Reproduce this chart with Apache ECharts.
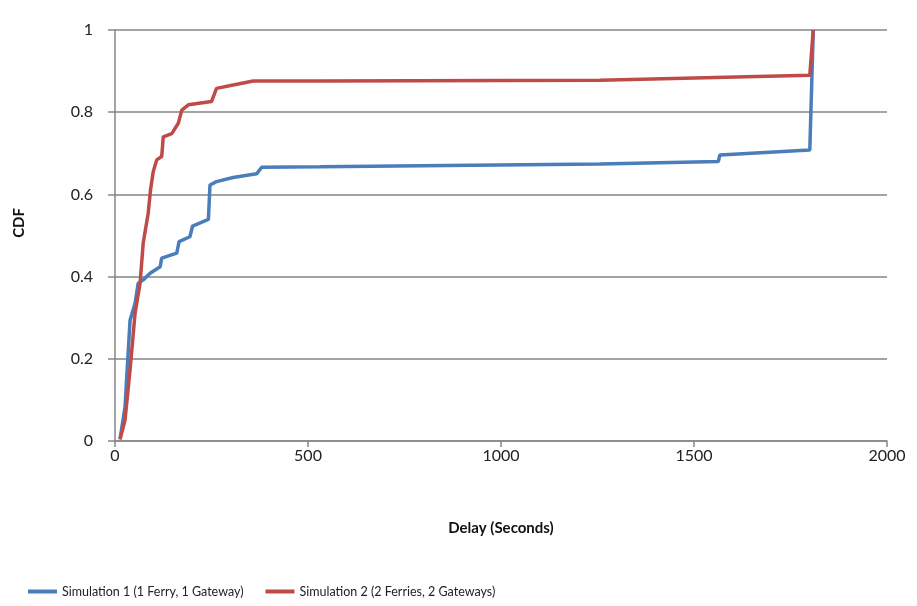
<!DOCTYPE html>
<html><head><meta charset="utf-8">
<script src="https://cdn.jsdelivr.net/npm/echarts@6/dist/echarts.min.js"></script>
<style>html,body{margin:0;padding:0;background:#fff}#c{width:917px;height:606px}</style>
</head><body><div id="c"></div>
<script>
var xTicks = [0, 500, 1000, 1500, 2000];
var yTicks = [0, 0.2, 0.4, 0.6, 0.8, 1];
var sim1Name = 'Simulation 1 (1 Ferry, 1 Gateway)';
var sim2Name = 'Simulation 2 (2 Ferries, 2 Gateways)';
var sim1Delay = [13, 26, 39, 52, 60, 73, 91, 117, 121, 160, 166, 194, 201, 242, 246, 263, 306, 367, 380, 531, 1256, 1563, 1567, 1800, 1809];
var sim1Cdf   = [0.004, 0.083, 0.294, 0.335, 0.384, 0.392, 0.408, 0.424, 0.445, 0.457, 0.485, 0.497, 0.523, 0.539, 0.623, 0.631, 0.641, 0.650, 0.666, 0.667, 0.674, 0.680, 0.696, 0.708, 1.0];
var sim2Delay = [13, 26, 39, 52, 65, 73, 86, 92, 99, 108, 121, 125, 147, 164, 173, 190, 250, 263, 306, 358, 531, 1256, 1800, 1809];
var sim2Cdf   = [0.004, 0.051, 0.173, 0.311, 0.384, 0.481, 0.554, 0.611, 0.655, 0.684, 0.692, 0.740, 0.748, 0.773, 0.805, 0.818, 0.826, 0.858, 0.866, 0.876, 0.876, 0.878, 0.890, 1.0];

function pairs(xs, ys){ return xs.map(function(x,i){ return [x, ys[i]]; }); }
var font = 'Lato, "Open Sans", sans-serif';
var chart = echarts.init(document.getElementById('c'), null, {renderer:'canvas'});
chart.setOption({
  animation: false,
  backgroundColor: '#fff',
  grid: {left: 115, right: 30, top: 30, bottom: 165, containLabel: false},
  legend: {
    left: 28, top: 585, padding: 0, itemWidth: 29, itemHeight: 4, itemGap: 22,
    icon: 'rect',
    textStyle: {fontFamily: font, fontSize: 12.5, color: '#222'},
    data: [sim1Name, sim2Name]
  },
  graphic: [{
    type: 'text', left: 12, top: 208, rotation: Math.PI/2,
    style: {text: 'CDF', font: 'bold 15px ' + font, fill: '#111'}
  }],
  xAxis: {
    type: 'value', min: xTicks[0], max: xTicks[xTicks.length-1], interval: 500,
    name: 'Delay (Seconds)', nameLocation: 'middle', nameGap: 80,
    nameTextStyle: {fontFamily: font, fontSize: 15, fontWeight: 'bold', color: '#111'},
    axisLine: {lineStyle: {color: '#868686', width: 1.5}},
    axisTick: {show: true, length: 6, lineStyle: {color: '#868686', width: 1.5}},
    axisLabel: {fontFamily: font, fontSize: 16, color: '#222', margin: 7,
      formatter: function(v){ return String(v); }},
    splitLine: {show: false}
  },
  yAxis: {
    type: 'value', min: yTicks[0], max: yTicks[yTicks.length-1], interval: 0.2,
    axisLine: {show: true, lineStyle: {color: '#868686', width: 1.5}},
    axisTick: {show: true, length: 7, lineStyle: {color: '#868686', width: 1.5}},
    axisLabel: {fontFamily: font, fontSize: 16, color: '#222', margin: 22,
      formatter: function(v){ return String(Math.round(v*10)/10); }},
    splitLine: {show: true, lineStyle: {color: '#868686', width: 1.5}}
  },
  series: [
    {name: sim1Name, type: 'line', data: pairs(sim1Delay, sim1Cdf), showSymbol: false,
     lineStyle: {color: '#4a7ebb', width: 3.5}, itemStyle: {color: '#4a7ebb'}},
    {name: sim2Name, type: 'line', data: pairs(sim2Delay, sim2Cdf), showSymbol: false,
     lineStyle: {color: '#be4b48', width: 3.5}, itemStyle: {color: '#be4b48'}}
  ]
});
</script></body></html>
